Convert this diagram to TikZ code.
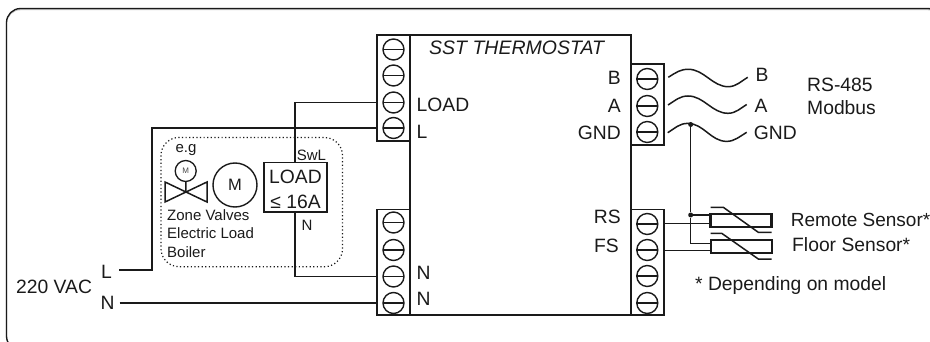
\documentclass[tikz,border=0pt]{standalone}
\usepackage{fontspec}
\setmainfont{Liberation Sans}
\definecolor{ink}{HTML}{1A1A1A}
\tikzset{
    wire/.style={draw=ink, line width=1.5pt},
    block/.style={rectangle, draw=ink, line width=1.6pt, inner sep=0pt, minimum width=33pt},
    screw/.style={circle, draw=ink, line width=1.4pt, inner sep=0pt, minimum size=21pt,
        path picture={\draw[ink, line width=1.2pt] (path picture bounding box.west) -- (path picture bounding box.east);}},
    sensorbox/.style={rectangle, draw=ink, line width=2.4pt, inner sep=0pt, minimum width=61pt, minimum height=13pt},
    dot/.style={circle, fill=ink, inner sep=0pt, minimum size=5pt},
    big/.style={inner sep=0pt, text=ink, font=\fontsize{19.3}{22}\selectfont},
    small/.style={inner sep=0pt, text=ink, font=\fontsize{15}{18}\selectfont}
}
\begin{document}
\begin{tikzpicture}[x=1pt, y=-1pt]
            \path[use as bounding box, clip] (0,0) rectangle (930,342);
            \draw[gray!50, line width=1.2pt, rounded corners=14pt] (6.5,9.6) rectangle (942,351);
            \draw[ink, line width=1.3pt, rounded corners=14pt] (6.5,8.5) rectangle (942,350);

            \node[block, minimum width=220.7pt, minimum height=280pt] (Main) at (520.35,175) {};
            \node[block, minimum height=106pt] (BlockA) at (393.5,88) {};
            \node[block, minimum height=105.5pt] (BlockB) at (393.5,262.25) {};
            \node[block, minimum height=81pt] (BlockC) at (647.3,104.5) {};
            \node[block, minimum height=105.5pt] (BlockD) at (647.3,262.25) {};

            \node[screw] (A1) at (393.5,49.5) {};
            \node[screw] (A2) at (393.5,75.5) {};
            \node[screw] (A3) at (393.5,102.5) {};
            \node[screw] (A4) at (393.5,128) {};
            \node[screw] (B1) at (393.5,222.5) {};
            \node[screw] (B2) at (393.5,250) {};
            \node[screw] (B3) at (393.5,276.5) {};
            \node[screw] (B4) at (393.5,303) {};
            \node[screw] (C1) at (647.3,79) {};
            \node[screw] (C2) at (647.3,106) {};
            \node[screw] (C3) at (647.3,132) {};
            \node[screw] (D1) at (647.3,224) {};
            \node[screw] (D2) at (647.3,250) {};
            \node[screw] (D3) at (647.3,276) {};
            \node[screw] (D4) at (647.3,303) {};

            \node[big, anchor=base west, font=\fontsize{19.5}{22}\selectfont\itshape] (Title) at (429,55) {SST THERMOSTAT};
            \node[big, anchor=base west] (LoadPin) at (416.5,112) {LOAD};
            \node[big, anchor=base west] (LPin) at (416.5,139) {L};
            \node[big, anchor=base west] (NPinA) at (416.5,279) {N};
            \node[big, anchor=base west] (NPinB) at (416.5,305) {N};
            \node[big, anchor=base east] (BPin) at (621,85) {B};
            \node[big, anchor=base east] (APin) at (621,112.7) {A};
            \node[big, anchor=base east] (GndPin) at (621,139.3) {GND};
            \node[big, anchor=base east] (RsPin) at (621,224) {RS};
            \node[big, anchor=base east] (FsPin) at (619,252) {FS};

            \node[big, anchor=base west] (Vac) at (16,294) {220 VAC};
            \node[big, anchor=base] (LIn) at (106.5,278.3) {L};
            \node[big, anchor=base] (NIn) at (107.5,309) {N};
            \coordinate (LEnd) at (119,270);
            \coordinate (LBend) at (152,270);
            \coordinate (NEnd) at (119.5,303);

            \node[big, anchor=base] (BOut) at (762,82) {B};
            \node[big, anchor=base] (AOut) at (761,113) {A};
            \node[big, anchor=base west] (GndOut) at (753.7,139.3) {GND};
            \node[big, anchor=base west] (Rs485) at (807,92) {RS-485};
            \node[big, anchor=base west] (Modbus) at (807,115) {Modbus};
            \node[big, anchor=base west, font=\fontsize{19}{22}\selectfont] (RemoteTxt) at (790.7,226) {Remote Sensor*};
            \node[big, anchor=base west] (FloorTxt) at (792,251.7) {Floor Sensor*};
            \node[big, anchor=base west] (NoteTxt) at (695,290) {* Depending on model};

            \draw[ink, line width=1.2pt, dash pattern=on 1.2pt off 2.4pt, rounded corners=18pt] (161,137.5) rectangle (342.5,266.7);
            \node[small, anchor=base] (Eg) at (186,152.7) {e.g};
            \node[circle, draw=ink, line width=1.3pt, inner sep=0pt, minimum size=21pt, font=\fontsize{8}{9}\selectfont, text=ink!80] (MotorS) at (185.7,171) {M};
            \node[circle, draw=ink, line width=1.4pt, inner sep=0pt, minimum size=44pt, text=ink, font=\fontsize{16.5}{18}\selectfont] (MotorL) at (235,185) {M};
            \coordinate (Valve) at (186,192);
            \draw[wire] (MotorS) -- (Valve);
            \draw[wire, line join=miter] (Valve) -- (165,182) -- (165,202) -- (207,182) -- (207,202) -- cycle;
            \node[small, anchor=base west] (Zone) at (167,221) {Zone Valves};
            \node[small, anchor=base west] (Electric) at (167,239) {Electric Load};
            \node[small, anchor=base west] (Boiler) at (167,257.7) {Boiler};

            \node[block, minimum width=63pt, minimum height=49.5pt] (Load) at (295.5,187.25) {};
            \node[big, anchor=base] (LoadA) at (295.5,184) {LOAD};
            \node[big, anchor=base] (LoadB) at (295.5,208) {≤ 16A};
            \node[small, anchor=base] (SwL) at (311.5,160.7) {SwL};
            \node[small, anchor=base] (NLoad) at (307,230) {N};

            \draw[wire] (LEnd) -- (LBend) |- (BlockA.west |- A4);
            \draw[wire] (BlockA.west |- A3) -| (Load.north -| 295,0);
            \draw[wire] (Load.south -| 295,0) |- (BlockB.west |- B3);
            \draw[wire] (NEnd) -- (BlockB.west |- B4);

            \coordinate (WaveB) at (668.3,77.3);
            \coordinate (WaveA) at (668,105);
            \coordinate (WaveG) at (667.7,132.7);
            \coordinate (WaveBEnd) at (747.7,77.3);
            \coordinate (WaveAEnd) at (746.7,104.5);
            \coordinate (WaveGEnd) at (746.7,132.3);
            \draw[wire] (WaveB) .. controls +(8,-5) and +(-8,0) .. ++(20,-8) .. controls +(16,0) and +(-16,0) .. ++(40,17.4) .. controls +(8,0) and +(-6,3.5) .. (WaveBEnd);
            \draw[wire] (WaveA) .. controls +(8,-5) and +(-8,0) .. ++(20,-9) .. controls +(16,0) and +(-16,0) .. ++(40,17.3) .. controls +(8,0) and +(-6,3.5) .. (WaveAEnd);
            \draw[wire] (WaveG) .. controls +(8,-5) and +(-8,0) .. ++(20,-9.3) .. controls +(16,0) and +(-16,0) .. ++(39,18) .. controls +(8,0) and +(-6,3.5) .. (WaveGEnd);

            \node[sensorbox] (Remote) at (741,220.3) {};
            \node[sensorbox] (Floor) at (741.5,246.7) {};
            \node[dot] (JoinA) at (690.7,124.5) {};
            \node[dot] (JoinB) at (690.7,215) {};
            \coordinate (FloorIn) at (690.7,243.3);
            \draw[wire] (JoinA) -- (JoinB) -- (FloorIn) -- (Floor.west |- FloorIn);
            \draw[wire] (JoinB) -- (Remote.west |- JoinB);
            \coordinate (RsWire) at (664,223.5);
            \coordinate (FsWire) at (664,250.3);
            \draw[wire] (RsWire) -- (Remote.west |- RsWire);
            \draw[wire] (FsWire) -- (Floor.west |- FsWire);
            \draw[wire] (710.7,207.3) -- (723.3,207.3) -- (758.3,232.3) -- (771.7,232.3);
            \draw[wire] (710.7,233.3) -- (721.7,233.3) -- (758.3,259) -- (771.7,259);
        \end{tikzpicture}
\end{document}
